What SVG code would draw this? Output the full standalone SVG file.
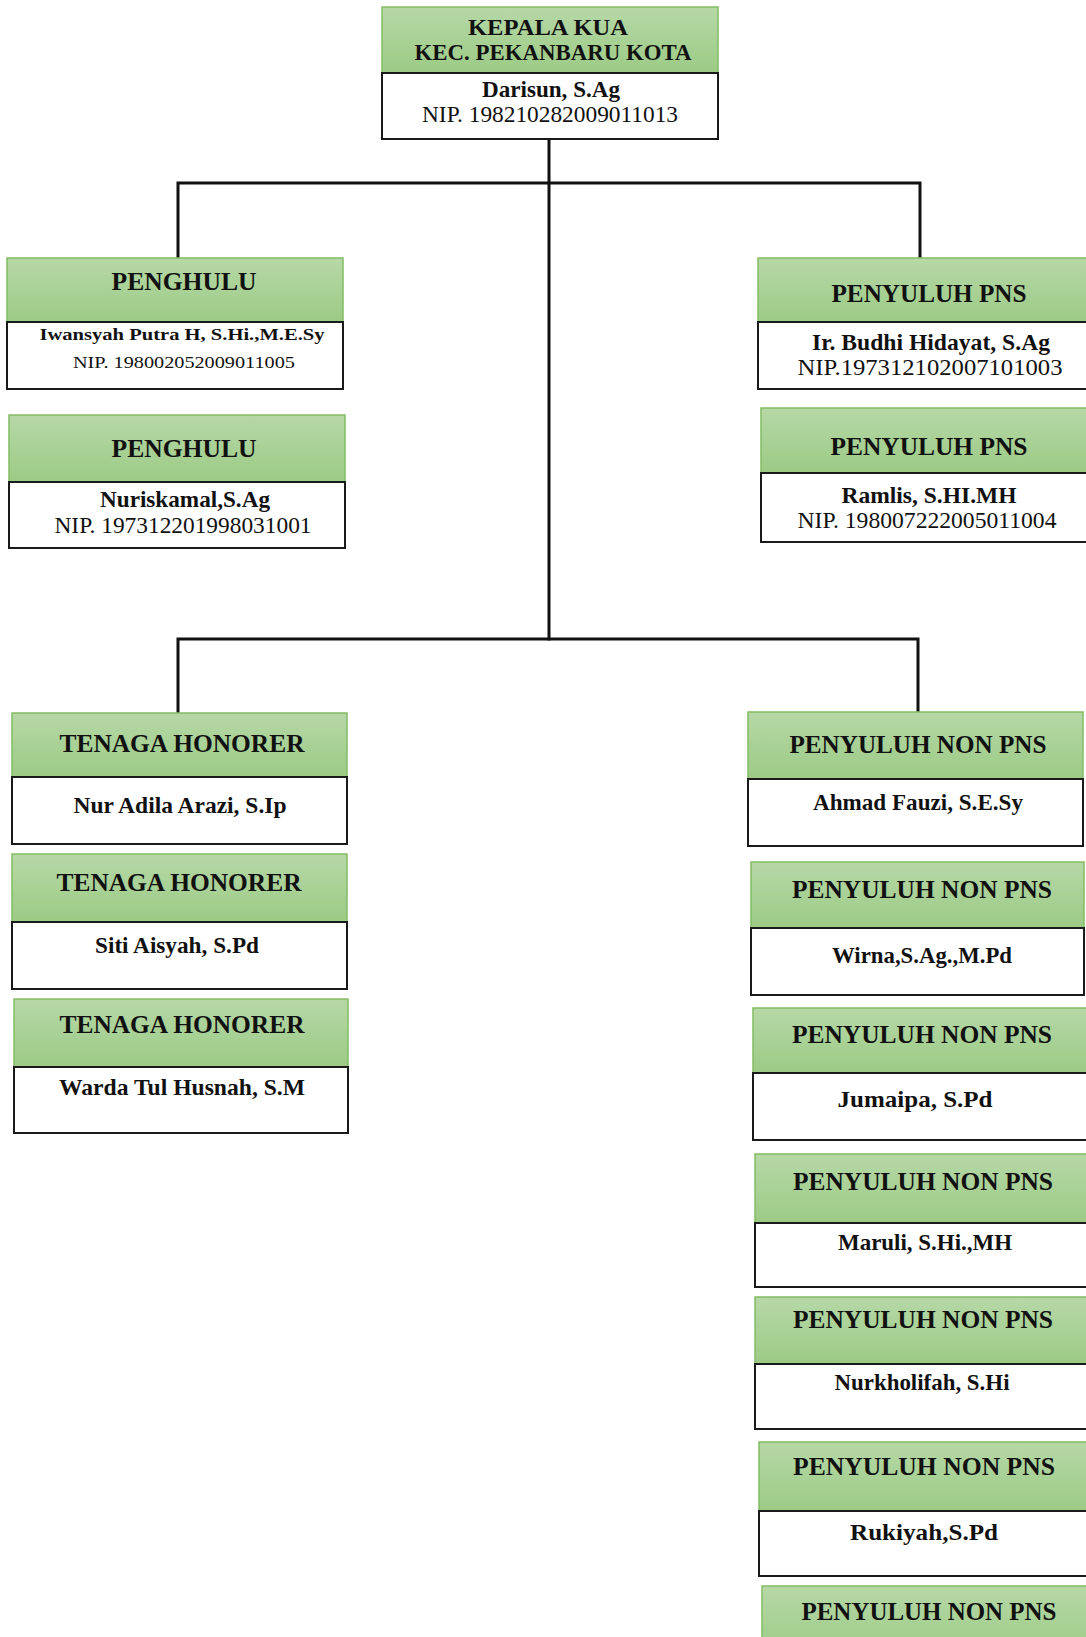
<svg xmlns="http://www.w3.org/2000/svg" width="1086" height="1637" viewBox="0 0 1086 1637">
<style>
.hdr{fill:url(#gr);stroke:#82bc63;stroke-width:1.5}
.body{fill:#fff;stroke:#1a1a1a;stroke-width:2}
.conn{fill:none;stroke:#111;stroke-width:3;stroke-linejoin:miter;stroke-linecap:square}
text{font-family:"Liberation Serif","Times New Roman",serif;fill:#111;text-anchor:middle}
.h{font-size:25px;font-weight:bold}
.h2{font-size:23px;font-weight:bold}
.n{font-size:23px;font-weight:bold}
.nip{font-size:23px}
.ns{font-size:17px;font-weight:bold}
.nips{font-size:16px}
</style>
<defs>
<linearGradient id="gr" x1="0" y1="0" x2="0" y2="1">
<stop offset="0" stop-color="#b6d8a7"/>
<stop offset="1" stop-color="#9ccb85"/>
</linearGradient>
</defs>
<rect width="1086" height="1637" fill="#fff"/>
<g id="connectors">
<path class="conn" d="M549,139 V639"/>
<path class="conn" d="M178,258 V183 H920 V258"/>
<path class="conn" d="M178,712 V639 H918 V712"/>
</g>
<g id="kepala">
<rect class="hdr" x="382" y="7" width="336" height="66"/>
<rect class="body" x="382" y="73" width="336" height="66"/>
<text class="h2" x="548" y="35" textLength="160" lengthAdjust="spacingAndGlyphs">KEPALA KUA</text>
<text class="h2" x="553" y="60" textLength="277" lengthAdjust="spacingAndGlyphs">KEC. PEKANBARU KOTA</text>
<text class="n" x="551" y="97" textLength="138" lengthAdjust="spacingAndGlyphs">Darisun, S.Ag</text>
<text class="nip" x="550" y="122" textLength="256" lengthAdjust="spacingAndGlyphs">NIP. 198210282009011013</text>
</g>
<g id="penghulu1">
<rect class="hdr" x="7" y="258" width="336" height="64"/>
<rect class="body" x="7" y="322" width="336" height="67"/>
<text class="h" x="184" y="290" textLength="145" lengthAdjust="spacingAndGlyphs">PENGHULU</text>
<text class="ns" x="182" y="340" textLength="285" lengthAdjust="spacingAndGlyphs">Iwansyah Putra H, S.Hi.,M.E.Sy</text>
<text class="nips" x="184" y="368" textLength="222" lengthAdjust="spacingAndGlyphs">NIP. 198002052009011005</text>
</g>
<g id="penghulu2">
<rect class="hdr" x="9" y="415" width="336" height="67"/>
<rect class="body" x="9" y="482" width="336" height="66"/>
<text class="h" x="184" y="457" textLength="145" lengthAdjust="spacingAndGlyphs">PENGHULU</text>
<text class="n" x="185" y="507" textLength="170" lengthAdjust="spacingAndGlyphs">Nuriskamal,S.Ag</text>
<text class="nip" x="183" y="533" textLength="257" lengthAdjust="spacingAndGlyphs">NIP. 197312201998031001</text>
</g>
<g id="penyuluh-pns1">
<rect class="hdr" x="758" y="258" width="340" height="64"/>
<rect class="body" x="758" y="322" width="340" height="67"/>
<text class="h" x="929" y="302" textLength="195" lengthAdjust="spacingAndGlyphs">PENYULUH PNS</text>
<text class="n" x="931" y="350" textLength="238" lengthAdjust="spacingAndGlyphs">Ir. Budhi Hidayat, S.Ag</text>
<text class="nip" x="930" y="375" textLength="265" lengthAdjust="spacingAndGlyphs">NIP.197312102007101003</text>
</g>
<g id="penyuluh-pns2">
<rect class="hdr" x="761" y="408" width="340" height="65"/>
<rect class="body" x="761" y="473" width="340" height="69"/>
<text class="h" x="929" y="455" textLength="197" lengthAdjust="spacingAndGlyphs">PENYULUH PNS</text>
<text class="n" x="929" y="503" textLength="175" lengthAdjust="spacingAndGlyphs">Ramlis, S.HI.MH</text>
<text class="nip" x="927" y="528" textLength="259" lengthAdjust="spacingAndGlyphs">NIP. 198007222005011004</text>
</g>
<g id="honorer1">
<rect class="hdr" x="12" y="713" width="335" height="64"/>
<rect class="body" x="12" y="777" width="335" height="67"/>
<text class="h" x="182" y="752" textLength="245" lengthAdjust="spacingAndGlyphs">TENAGA HONORER</text>
<text class="n" x="180" y="813" textLength="213" lengthAdjust="spacingAndGlyphs">Nur Adila Arazi, S.Ip</text>
</g>
<g id="honorer2">
<rect class="hdr" x="12" y="854" width="335" height="68"/>
<rect class="body" x="12" y="922" width="335" height="67"/>
<text class="h" x="179" y="891" textLength="245" lengthAdjust="spacingAndGlyphs">TENAGA HONORER</text>
<text class="n" x="177" y="953" textLength="164" lengthAdjust="spacingAndGlyphs">Siti Aisyah, S.Pd</text>
</g>
<g id="honorer3">
<rect class="hdr" x="14" y="999" width="334" height="68"/>
<rect class="body" x="14" y="1067" width="334" height="66"/>
<text class="h" x="182" y="1033" textLength="245" lengthAdjust="spacingAndGlyphs">TENAGA HONORER</text>
<text class="n" x="182" y="1095" textLength="246" lengthAdjust="spacingAndGlyphs">Warda Tul Husnah, S.M</text>
</g>
<g id="nonpns1">
<rect class="hdr" x="748" y="712" width="335" height="67"/>
<rect class="body" x="748" y="779" width="335" height="67"/>
<text class="h" x="918" y="753" textLength="257" lengthAdjust="spacingAndGlyphs">PENYULUH NON PNS</text>
<text class="n" x="918" y="810" textLength="210" lengthAdjust="spacingAndGlyphs">Ahmad Fauzi, S.E.Sy</text>
</g>
<g id="nonpns2">
<rect class="hdr" x="751" y="862" width="333" height="66"/>
<rect class="body" x="751" y="928" width="333" height="67"/>
<text class="h" x="922" y="898" textLength="260" lengthAdjust="spacingAndGlyphs">PENYULUH NON PNS</text>
<text class="n" x="922" y="963" textLength="180" lengthAdjust="spacingAndGlyphs">Wirna,S.Ag.,M.Pd</text>
</g>
<g id="nonpns3">
<rect class="hdr" x="753" y="1008" width="345" height="65"/>
<rect class="body" x="753" y="1073" width="345" height="67"/>
<text class="h" x="922" y="1043" textLength="260" lengthAdjust="spacingAndGlyphs">PENYULUH NON PNS</text>
<text class="n" x="915" y="1107" textLength="155" lengthAdjust="spacingAndGlyphs">Jumaipa, S.Pd</text>
</g>
<g id="nonpns4">
<rect class="hdr" x="755" y="1154" width="345" height="69"/>
<rect class="body" x="755" y="1223" width="345" height="64"/>
<text class="h" x="923" y="1190" textLength="260" lengthAdjust="spacingAndGlyphs">PENYULUH NON PNS</text>
<text class="n" x="925" y="1250" textLength="174" lengthAdjust="spacingAndGlyphs">Maruli, S.Hi.,MH</text>
</g>
<g id="nonpns5">
<rect class="hdr" x="755" y="1297" width="345" height="67"/>
<rect class="body" x="755" y="1364" width="345" height="65"/>
<text class="h" x="923" y="1328" textLength="260" lengthAdjust="spacingAndGlyphs">PENYULUH NON PNS</text>
<text class="n" x="922" y="1390" textLength="175" lengthAdjust="spacingAndGlyphs">Nurkholifah, S.Hi</text>
</g>
<g id="nonpns6">
<rect class="hdr" x="759" y="1442" width="345" height="69"/>
<rect class="body" x="759" y="1511" width="345" height="65"/>
<text class="h" x="924" y="1475" textLength="262" lengthAdjust="spacingAndGlyphs">PENYULUH NON PNS</text>
<text class="n" x="924" y="1540" textLength="148" lengthAdjust="spacingAndGlyphs">Rukiyah,S.Pd</text>
</g>
<g id="nonpns7">
<rect class="hdr" x="762" y="1586" width="345" height="70"/>
<text class="h" x="929" y="1620" textLength="255" lengthAdjust="spacingAndGlyphs">PENYULUH NON PNS</text>
</g>
</svg>
